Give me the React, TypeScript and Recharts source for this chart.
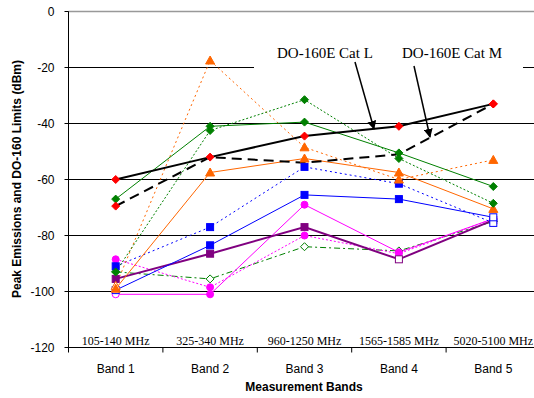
import React from 'react';
import { LineChart, Line, XAxis, YAxis, CartesianGrid, ReferenceLine } from 'recharts';

const bands = ['Band 1', 'Band 2', 'Band 3', 'Band 4', 'Band 5'];
const freqRanges = ['105-140 MHz', '325-340 MHz', '960-1250 MHz', '1565-1585 MHz', '5020-5100 MHz'];
const yTicks = [0, -20, -40, -60, -80, -100, -120];

// DO-160E limits
const catL = [-60, -52, -44.5, -41, -33];
const catM = [-69.5, -52, -54, -51, -33];

// measured peak emissions
const greenSolid = [-67, -41, -39.5, -50.5, -62.5];
const greenDotted = [-93, -42.5, -31.5, -52.5, -68.5];
const greenDashDot = [-93, -95.5, -84, -85.5, -75];
const orangeSolid = [-99, -57.5, -52.5, -57.5, -70.5];
const orangeDotted = [-98, -17.5, -48.5, -60, -53];
const blueSolid = [-99.5, -83.5, -65.5, -67, -73.5];
const blueDotted = [-91, -77, -55.5, -61.5, -75.5];
const purpleSolid = [-95.5, -86.5, -77, -88.5, -74.5];
const magentaSolid = [-101, -101, -69, -86, -74];
const magentaDotted = [-88.5, -98.5, -80, -86.5, -74];

const W = 545;
const H = 398;
// half-pixel offsets keep the 1px grid and axis lines crisp
const margin = { top: 11.5, right: 4.5, bottom: 25.5, left: 8.5 };
const Y_AXIS_W = 60;
const X_AXIS_H = 25;
const bandW = (W - margin.left - margin.right - Y_AXIS_W) / bands.length;

const SANS = 'Arial, "Liberation Sans", sans-serif';
const SERIF = '"Times New Roman", "Liberation Serif", serif';

type Shape = 'diamond' | 'square' | 'triangle' | 'circle';

const series = [
  { key: 'greenDashDot', data: greenDashDot, color: '#008000', width: 1, dash: '6 3 2 3', shape: 'diamond', hollow: [0, 1, 2, 3, 4] },
  { key: 'magentaDotted', data: magentaDotted, color: '#FF00FF', width: 1, dash: '2 2', shape: 'circle', hollow: [3] },
  { key: 'magentaSolid', data: magentaSolid, color: '#FF00FF', width: 1, dash: undefined, shape: 'circle', hollow: [0] },
  { key: 'purpleSolid', data: purpleSolid, color: '#800080', width: 2, dash: undefined, shape: 'square', hollow: [3] },
  { key: 'blueDotted', data: blueDotted, color: '#0000FF', width: 1, dash: '2 3', shape: 'square', hollow: [4] },
  { key: 'blueSolid', data: blueSolid, color: '#0000FF', width: 1, dash: undefined, shape: 'square', hollow: [0, 4] },
  { key: 'orangeDotted', data: orangeDotted, color: '#FF6600', width: 1, dash: '2 3', shape: 'triangle', hollow: [0] },
  { key: 'orangeSolid', data: orangeSolid, color: '#FF6600', width: 1, dash: undefined, shape: 'triangle', hollow: [] as number[] },
  { key: 'greenDotted', data: greenDotted, color: '#008000', width: 1, dash: '2 2', shape: 'diamond', hollow: [] as number[] },
  { key: 'greenSolid', data: greenSolid, color: '#008000', width: 1, dash: undefined, shape: 'diamond', hollow: [] as number[] },
];

const data = bands.map((band, i) => {
  const row: Record<string, string | number> = { band, freq: freqRanges[i], catL: catL[i], catM: catM[i] };
  series.forEach((s) => {
    row[s.key] = s.data[i];
  });
  return row;
});

const makeDot = (name: string, shape: Shape, color: string, hollow: number[], only?: number[]) => (props: any) => {
  const { cx, cy, index } = props;
  const k = `${name}-${index}`;
  if (cx == null || cy == null || (only && !only.includes(index))) return <g key={k} />;
  const fill = hollow.includes(index) ? '#fff' : color;
  if (shape === 'diamond') {
    const s = 4;
    return <polygon key={k} points={`${cx},${cy - s} ${cx + s},${cy} ${cx},${cy + s} ${cx - s},${cy}`} fill={fill} stroke={color} strokeWidth={1} />;
  }
  if (shape === 'square') {
    return <rect key={k} x={cx - 3.5} y={cy - 3.5} width={7} height={7} fill={fill} stroke={color} strokeWidth={1} />;
  }
  if (shape === 'triangle') {
    return <polygon key={k} points={`${cx},${cy - 4.5} ${cx + 4.5},${cy + 3.5} ${cx - 4.5},${cy + 3.5}`} fill={fill} stroke={color} strokeWidth={1} />;
  }
  return <circle key={k} cx={cx} cy={cy} r={3.5} fill={fill} stroke={color} strokeWidth={1} />;
};

const BandTick = (props: any) => {
  const { x, y, payload, index } = props;
  return (
    <g>
      <line x1={x - bandW / 2} y1={y} x2={x - bandW / 2} y2={y + 5} stroke="#000" />
      {index === bands.length - 1 && <line x1={x + bandW / 2} y1={y} x2={x + bandW / 2} y2={y + 5} stroke="#000" />}
      <text x={x} y={y - 3} textAnchor="middle" fontFamily={SERIF} fontSize={12} fill="#000">
        {freqRanges[index]}
      </text>
      <text x={x} y={y + 25} textAnchor="middle" fontFamily={SANS} fontSize={12} fill="#000">
        {payload.value}
      </text>
    </g>
  );
};

export default function App() {
  return (
    <div style={{ position: 'fixed', left: 0, top: 0, width: 534, height: 398, overflow: 'hidden', background: '#fff' }}>
      <LineChart width={W} height={H} data={data} margin={margin}>
        <CartesianGrid vertical={false} stroke="#000" />
        <ReferenceLine y={0} stroke="#999" strokeWidth={1.5} />
        <XAxis
          dataKey="band"
          height={X_AXIS_H}
          padding={{ left: bandW / 2, right: bandW / 2 }}
          tickLine={false}
          tickSize={0}
          tickMargin={0}
          axisLine={{ stroke: '#000' }}
          tick={<BandTick />}
          interval={0}
        />
        <YAxis
          type="number"
          domain={[-120, 0]}
          ticks={yTicks}
          width={Y_AXIS_W}
          tickSize={4}
          tickMargin={10}
          axisLine={{ stroke: '#000' }}
          tickLine={{ stroke: '#000' }}
          tick={{ fontFamily: SANS, fontSize: 12, fill: '#000' }}
        />
        {series.map((s) => (
          <Line
            key={s.key}
            dataKey={s.key}
            stroke={s.color}
            strokeWidth={s.width}
            strokeDasharray={s.dash}
            dot={makeDot(s.key, s.shape as Shape, s.color, s.hollow)}
            activeDot={false}
            isAnimationActive={false}
          />
        ))}
        <Line
          dataKey="catM"
          stroke="#000"
          strokeWidth={2}
          strokeDasharray="10 6"
          dot={makeDot('catM', 'diamond', '#FF0000', [], [0, 4])}
          activeDot={false}
          isAnimationActive={false}
        />
        <Line
          dataKey="catL"
          stroke="#000"
          strokeWidth={2}
          dot={makeDot('catL', 'diamond', '#FF0000', [])}
          activeDot={false}
          isAnimationActive={false}
        />
      </LineChart>

      <svg width={534} height={398} style={{ position: 'absolute', left: 0, top: 0, pointerEvents: 'none' }}>
        <defs>
          <marker id="arrow" viewBox="0 0 10 10" refX="9" refY="5" markerWidth="6" markerHeight="6" orient="auto">
            <path d="M0,0 L10,5 L0,10 z" fill="#000" />
          </marker>
        </defs>
        <rect x={254} y={36} width={269} height={36} fill="#fff" />
        <text x={277} y={58} fontFamily={SERIF} fontSize={15} fill="#000">DO-160E Cat L</text>
        <text x={402} y={58} fontFamily={SERIF} fontSize={15} fill="#000">DO-160E Cat M</text>
        <line x1={355} y1={62} x2={374} y2={129} stroke="#000" strokeWidth={1.5} markerEnd="url(#arrow)" />
        <line x1={414} y1={66} x2={430} y2={137} stroke="#000" strokeWidth={1.5} markerEnd="url(#arrow)" />
        <text
          transform="translate(21,179) rotate(-90)"
          textAnchor="middle"
          fontFamily={SANS}
          fontSize={12}
          fontWeight="bold"
          fill="#000"
        >
          Peak Emissions and DO-160 Limits (dBm)
        </text>
        <text x={304} y={391} textAnchor="middle" fontFamily={SANS} fontSize={12} fontWeight="bold" fill="#000">
          Measurement Bands
        </text>
      </svg>
    </div>
  );
}
